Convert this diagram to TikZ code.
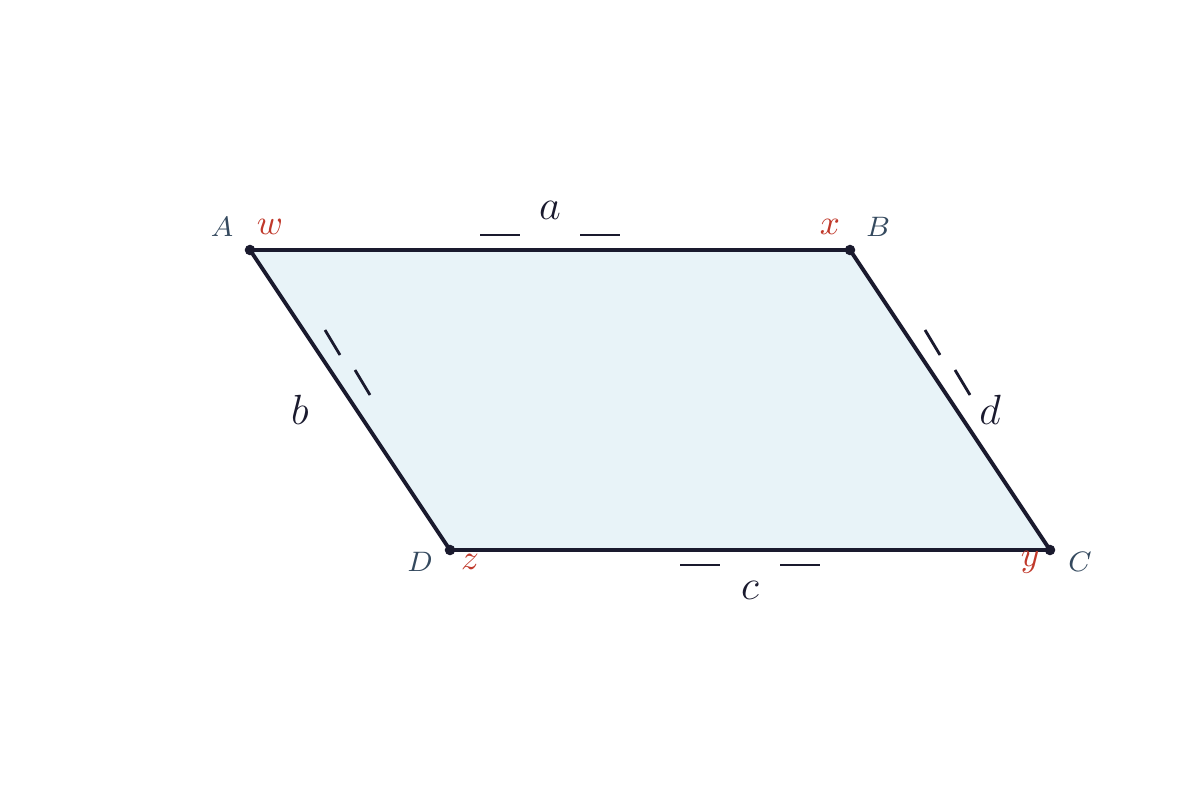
\documentclass[tikz,border=0pt]{standalone}
\usepackage{tikz}
\usepackage{amsmath}

\definecolor{ink}{RGB}{26,26,46}
\definecolor{paleblue}{RGB}{232,243,248}
\definecolor{anglered}{RGB}{192,57,43}
\definecolor{slate}{RGB}{52,73,94}

\begin{document}
\begin{tikzpicture}[x = .01cm, y = -.01cm,
  side/.style = {line width = 1.1pt, draw = ink, line join = round},
  tick/.style = {line width = .8pt, draw = ink},
  vert/.style = {circle, fill = ink, inner sep = 0pt, minimum size = 3pt},
  vname/.style = {text = slate, font = \fontsize{8.5}{10}\selectfont},
  aname/.style = {text = anglered, font = \fontsize{10}{12}\selectfont},
  sname/.style = {text = ink, font = \fontsize{11.5}{13}\selectfont}]
\useasboundingbox (0,0) rectangle (1200,800);
\begin{scope}
\coordinate (A) at (250,250);
\coordinate (B) at (850,250);
\coordinate (C) at (1050,550);
\coordinate (D) at (450,550);
\fill[paleblue] (A) -- (B) -- (C) -- (D) -- cycle;
\draw[side] (A) -- (B) -- (C) -- (D) -- cycle;
% marks along the sides
\draw[tick] (480,235) -- (520,235);
\draw[tick] (580,235) -- (620,235);
\draw[tick] (680,565) -- (720,565);
\draw[tick] (780,565) -- (820,565);
\draw[tick] (325,330) -- (340,355);
\draw[tick] (355,370) -- (370,395);
\draw[tick] (925,330) -- (940,355);
\draw[tick] (955,370) -- (970,395);
\node[vert] (vA) at (A) {};
\node[vert] (vB) at (B) {};
\node[vert] (vC) at (C) {};
\node[vert] (vD) at (D) {};
\node[vname] (nA) at (222,227) {$A$};
\node[vname] (nB) at (878,227) {$B$};
\node[vname] (nC) at (1080,562) {$C$};
\node[vname] (nD) at (420,562) {$D$};
\node[aname] (w) at (270,227) {$w$};
\node[aname] (x) at (830,227) {$x$};
\node[aname] (y) at (1030,562) {$y$};
\node[aname] (z) at (470,562) {$z$};
\node[sname] (sa) at (550,210) {$a$};
\node[sname] (sb) at (300,410) {$b$};
\node[sname] (sc) at (750,590) {$c$};
\node[sname] (sd) at (990,410) {$d$};
\end{scope}
\end{tikzpicture}
\end{document}
